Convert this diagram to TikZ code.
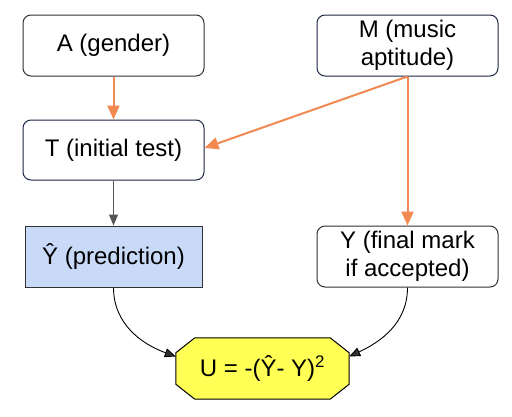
\documentclass[tikz,border=0pt]{standalone}
\usepackage{fontspec}
\setmainfont{Liberation Sans}
\usetikzlibrary{arrows.meta}
\definecolor{orangeline}{RGB}{241,137,80}
\definecolor{navyline}{RGB}{30,38,70}
\definecolor{darkline}{RGB}{50,50,50}
\definecolor{grayline}{RGB}{85,85,85}
\definecolor{predblue}{RGB}{201,218,248}
\definecolor{uyellow}{RGB}{255,255,85}
\tikzset{
  rbox/.style={draw=#1, line width=1pt, rounded corners=8pt, minimum width=181pt,
    minimum height=61pt, align=center, inner sep=0pt, fill=white},
  rbox/.default=darkline,
  orangearrow/.style={draw=orangeline, line width=2pt,
    -{Triangle[length=14pt,width=12pt]}},
  grayarrow/.style={draw=grayline, line width=1.2pt,
    -{Triangle[length=11pt,width=9pt]}},
  curvearrow/.style={draw=black, line width=0.9pt,
    -{Triangle[length=11pt,width=9pt,fill=darkline]}},
  txt/.style={font=\fontsize{24}{28}\selectfont}
}
\begin{document}
\begin{tikzpicture}[x=1pt,y=-1pt]
\useasboundingbox (0,0) rectangle (512,416);
\node[rbox, txt] (A) at (113.5,45.5) {A (gender)};
\node[rbox=navyline, txt, minimum height=60pt] (T) at (113.5,150) {T (initial test)};
\node[rbox=navyline, txt] (M) at (407.5,45.5) {M (music\\aptitude)};
\node[rbox, txt] (Y) at (407.5,256.5) {Y (final mark\\if accepted)};
\node[draw=darkline, line width=1pt, fill=predblue, minimum width=177pt,
  minimum height=61pt, inner sep=0pt, txt] (P) at (113.5,256.5) {Ŷ (prediction)};
\node[minimum width=173pt, minimum height=61pt, inner sep=0pt] (U) at (262.5,368.5) {};
\draw[line width=1pt, fill=uyellow, draw=black]
  ([xshift=19pt]U.north west) -- ([xshift=-19pt]U.north east)
  -- ([yshift=-15pt]U.north east) -- ([yshift=15pt]U.south east)
  -- ([xshift=-19pt]U.south east) -- ([xshift=19pt]U.south west)
  -- ([yshift=15pt]U.south west) -- ([yshift=-15pt]U.north west) -- cycle;
\node[txt, inner sep=0pt] (Ut) at (U.center) {U = -(Ŷ- Y)\textsuperscript{2}};
\draw[orangearrow] (A.south) -- (T.north);
\draw[orangearrow] (M.south) -- ([yshift=2pt]T.east);
\draw[orangearrow] (M.south) -- (Y.north);
\draw[grayarrow] (T.south) -- (P.north);
\draw[curvearrow] (P.south) to[out=-90, in=160] ([yshift=12pt]U.west);
\draw[curvearrow] (Y.south) to[out=-90, in=25] ([yshift=12pt]U.east);
\end{tikzpicture}
\end{document}
